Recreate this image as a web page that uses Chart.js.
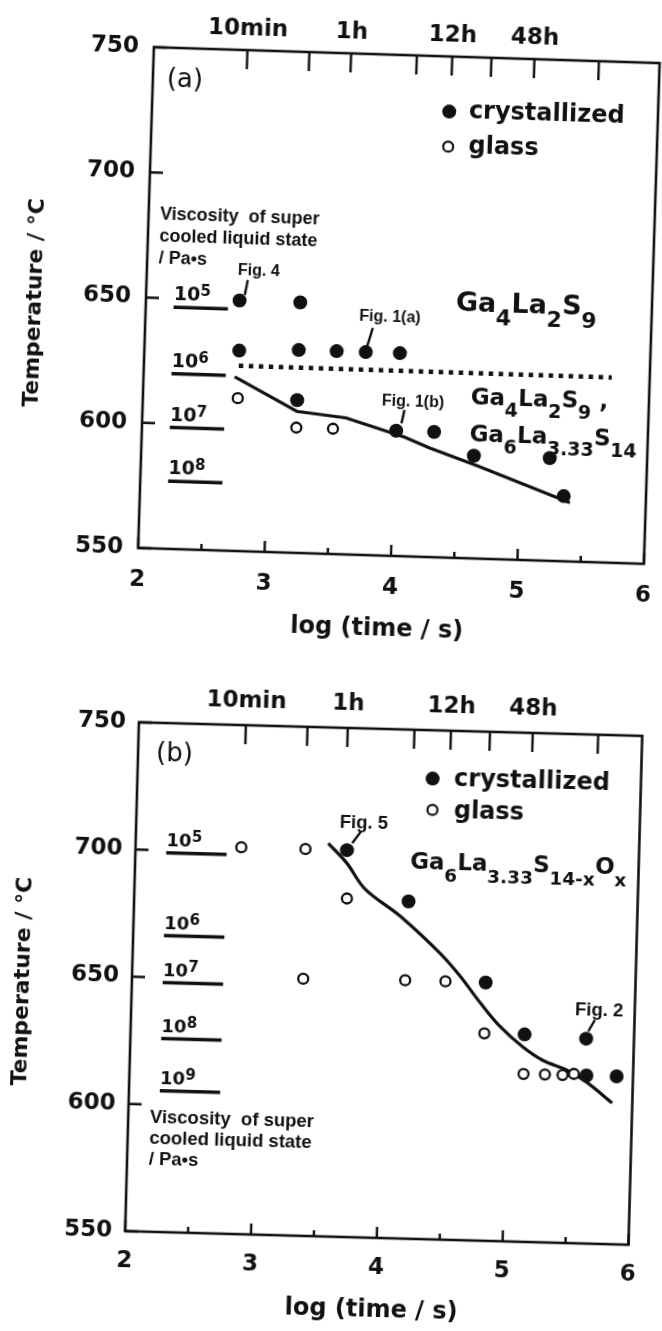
<!DOCTYPE html>
<html>
<head>
<meta charset="utf-8">
<script src="https://cdn.jsdelivr.net/npm/chart.js@4.4.1/dist/chart.umd.min.js"></script>
<style>
html,body{margin:0;padding:0;background:#fff;width:662px;height:1331px;overflow:hidden}
.panel{position:absolute;left:0;width:662px}
/* the scanned figure is slightly tilted; the panels follow it */
#pa{top:0;height:660px;transform-origin:398.5px 301.5px;transform:rotate(1.8deg)}
#pb{top:660px;height:671px;transform-origin:383px 321px;transform:rotate(1.55deg)}
canvas{display:block}
</style>
</head>
<body>
<div class="panel" id="pa"><canvas id="chart-a" width="662" height="660"></canvas></div>
<div class="panel" id="pb"><canvas id="chart-b" width="662" height="671"></canvas></div>
<script>
const INK='#111';

// axes
const logTicks=[2,3,4,5,6];
const tempTicks=[550,600,650,700,750];
const topLabels=['10min','','1h','','12h','','48h',''];

// panel (a) Ga4La2S9
const aCrystLog=[2.74,3.22,2.75,3.22,3.52,3.75,4.02,3.22,4.01,4.31,4.63,5.23,5.35];
const aCrystTemp=[650,650,630,631,631,631,631,611,600,600,591,591,576];
const aGlassLog=[2.75,3.22,3.51];
const aGlassTemp=[611,600,600];
const aFitLog=[2.72,3.22,3.61,4.08,4.28,4.66,5.40];
const aFitTemp=[619.5,606.5,604.5,597.5,593.5,587,573.5];
const aDotLog=[2.75,5.70];
const aDotTemp=[624,624];
const aViscExp=['5','6','7','8'];
const aViscTemp=[646.5,620,598.5,577];
const aViscLog=[2.22,2.65];
const aTopLog=[2.74,3.23,3.56,4.08,4.36,4.67,5.01,5.52];

// panel (b) Ga6La3.33S14-xOx
const bCrystLog=[3.68,4.18,4.81,5.13,5.62,5.63,5.87];
const bCrystTemp=[702,682.5,651.5,631.5,630.5,616,616];
const bGlassLog=[2.84,3.35,3.69,3.36,4.17,4.49,4.81,5.13,5.30,5.44,5.53];
const bGlassTemp=[702,702,683,651,651.5,651.5,631.5,616,616,616,616.5];
const bFitLog=[3.53,3.68,3.83,4.12,4.44,4.60,4.77,4.93,5.12,5.28,5.47,5.63,5.84];
const bFitTemp=[704.5,697,687,676.5,662.5,654,643.5,634.5,626.5,621.5,618,613.5,605.5];
const bViscExp=['5','6','7','8','9'];
const bViscTemp=[699,666.5,648,626,605.5];
const bViscLog=[2.245,2.725];
const bTopLog=[2.85,3.34,3.66,4.19,4.48,4.79,5.13,5.65];

const pts=(xs,ys)=>xs.map((x,i)=>({x,y:ys[i]}));
const dv='"DejaVu Sans"', lib='"Liberation Sans"';

// text with _{sub} and ^{sup}
function rich(ctx,str,x,y,f){
  const re=/_\{([^}]*)\}|\^\{([^}]*)\}|([^_^]+)/g;
  let m,cx=x;
  ctx.textAlign='left';ctx.textBaseline='alphabetic';
  while((m=re.exec(str))){
    let t=m[3],sz=f.size,dy=0;
    if(m[1]!==undefined){t=m[1];sz=f.small;dy=f.sub||0;}
    else if(m[2]!==undefined){t=m[2];sz=f.small;dy=-(f.sup||0);}
    ctx.font=`bold ${sz}px ${dv}`;
    ctx.fillText(t,cx,y+dy);
    cx+=ctx.measureText(t).width;
  }
}

const dressing={
  id:'dressing',
  afterDraw(chart,args,o){
    const {ctx,chartArea:a,scales:{x,x2,y}}=chart;
    const px=v=>x.getPixelForValue(v), py=v=>y.getPixelForValue(v);
    ctx.save();
    ctx.strokeStyle=INK;ctx.fillStyle=INK;
    ctx.lineWidth=2.6;
    ctx.strokeRect(a.left,a.top,a.right-a.left,a.bottom-a.top);
    ctx.lineWidth=2.4;
    ctx.beginPath();
    y.ticks.forEach(t=>{const v=py(t.value);ctx.moveTo(a.left,v);ctx.lineTo(a.left+13,v);});
    x.ticks.forEach((t,i)=>{
      const v=px(t.value);ctx.moveTo(v,a.bottom);ctx.lineTo(v,a.bottom-11);
      if(i<x.ticks.length-1){const m=px((t.value+x.ticks[i+1].value)/2);ctx.moveTo(m,a.bottom);ctx.lineTo(m,a.bottom-6);}
    });
    x2.ticks.forEach(t=>{const v=x2.getPixelForValue(t.value);ctx.moveTo(v,a.top);ctx.lineTo(v,a.top+19);});
    ctx.stroke();

    // axis titles
    ctx.textAlign='center';ctx.textBaseline='middle';
    ctx.font=`bold 22px ${dv}`;
    ctx.save();ctx.translate(o.yTitle[0],o.yTitle[1]);ctx.rotate(-Math.PI/2);
    ctx.fillText('Temperature / °C',0,0);ctx.restore();
    ctx.font=`bold 24px ${dv}`;
    ctx.fillText('log (time / s)',o.xTitle[0],o.xTitle[1]);

    // viscosity labels above the short lines
    o.visc.exp.forEach((e,i)=>{
      rich(ctx,'10^{'+e+'}',px(o.visc.log[0]),py(o.visc.temp[i])-o.visc.lift,{size:o.visc.size,small:o.visc.small,sup:o.visc.sup});
    });

    o.notes.forEach(n=>{
      if(n.t==='text'){
        ctx.font=n.font;ctx.textAlign='left';ctx.textBaseline=n.base||'alphabetic';
        ctx.fillText(n.s,px(n.x),py(n.y));
      }else if(n.t==='lines'){
        ctx.font=n.font;ctx.textAlign='left';ctx.textBaseline='alphabetic';
        n.rows.forEach((r,i)=>ctx.fillText(r,px(n.x),py(n.y)+i*n.step));
      }else if(n.t==='rich'){
        rich(ctx,n.s,px(n.x),py(n.y),n);
      }else if(n.t==='lead'){
        ctx.lineWidth=2.4;ctx.beginPath();
        ctx.moveTo(px(n.x1),py(n.y1));ctx.lineTo(px(n.x2),py(n.y2));ctx.stroke();
      }else if(n.t==='dot'){
        ctx.beginPath();ctx.arc(px(n.x),py(n.y),n.r,0,Math.PI*2);
        if(n.open){ctx.lineWidth=2.2;ctx.fillStyle='#fff';ctx.fill();ctx.fillStyle=INK;ctx.stroke();}
        else ctx.fill();
      }
    });
    ctx.restore();
  }
};

function makePanel(id,p){
  const datasets=[
    {label:'crystallized',data:pts(p.crystLog,p.crystTemp),pointRadius:7,pointBackgroundColor:INK,pointBorderWidth:0,showLine:false},
    {label:'glass',data:pts(p.glassLog,p.glassTemp),pointRadius:5,pointBackgroundColor:'#fff',pointBorderColor:INK,pointBorderWidth:2.3,showLine:false},
    {label:'fit',data:pts(p.fitLog,p.fitTemp),showLine:true,borderColor:INK,borderWidth:3.2,pointRadius:0,tension:p.tension}
  ];
  if(p.dotLog) datasets.push({label:'limit',data:pts(p.dotLog,p.dotTemp),showLine:true,borderColor:INK,borderWidth:4.5,borderDash:[4.5,5.5],pointRadius:0});
  p.viscTemp.forEach((t,i)=>datasets.push({label:'eta 10^'+p.viscExp[i],data:pts(p.viscLog,[t,t]),showLine:true,borderColor:INK,borderWidth:3.5,pointRadius:0}));

  const tickFont={family:dv,size:23,weight:'bold'};
  const noGrid={display:false,drawTicks:false};
  return new Chart(document.getElementById(id).getContext('2d'),{
    type:'scatter',
    data:{datasets},
    options:{
      responsive:false,animation:false,devicePixelRatio:1,events:[],
      layout:{padding:{left:0,top:0,bottom:0,right:662-p.right}},
      plugins:{legend:{display:false},tooltip:{enabled:false},
        dressing:{yTitle:p.yTitle,xTitle:p.xTitle,notes:p.notes,
          visc:{exp:p.viscExp,temp:p.viscTemp,log:p.viscLog,size:p.viscSize,small:15,sup:5,lift:7}}},
      scales:{
        x:{type:'linear',position:'bottom',min:2,max:6,
          afterBuildTicks:s=>{s.ticks=logTicks.map(v=>({value:v}));},
          ticks:{padding:p.xPad,color:INK,font:tickFont,maxRotation:0,autoSkip:false},
          grid:noGrid,border:{display:false},
          afterFit:s=>{s.height=p.h-p.bottom;s.paddingLeft=0;s.paddingRight=0;}},
        x2:{type:'linear',position:'top',min:2,max:6,
          afterBuildTicks:s=>{s.ticks=p.topLog.map(v=>({value:v}));},
          ticks:{padding:p.topPad,color:INK,font:tickFont,maxRotation:0,autoSkip:false,callback:(v,i)=>topLabels[i]},
          grid:noGrid,border:{display:false},
          afterFit:s=>{s.height=p.top;s.paddingLeft=0;s.paddingRight=0;}},
        y:{type:'linear',min:550,max:750,
          afterBuildTicks:s=>{s.ticks=tempTicks.map(v=>({value:v}));},
          ticks:{padding:p.yPad,color:INK,font:tickFont,autoSkip:false},
          grid:noGrid,border:{display:false},
          afterFit:s=>{s.width=p.left;s.paddingTop=0;s.paddingBottom=0;}}
      }
    },
    plugins:[dressing]
  });
}

const fig=n=>`bold ${n}px ${lib}`;
const rows=['Viscosity  of super','cooled liquid state','/ Pa\u2022s'];

makePanel('chart-a',{
  crystLog:aCrystLog,crystTemp:aCrystTemp,glassLog:aGlassLog,glassTemp:aGlassTemp,
  fitLog:aFitLog,fitTemp:aFitTemp,tension:0,dotLog:aDotLog,dotTemp:aDotTemp,
  viscExp:aViscExp,viscTemp:aViscTemp,viscLog:aViscLog,viscSize:19,topLog:aTopLog,
  left:146,right:652,top:55,bottom:556,h:660,yPad:15,xPad:18,topPad:7,
  yTitle:[35,314],xTitle:[387,630],
  notes:[
    {t:'text',x:2.11,y:737,s:'(a)',font:`26px ${dv}`,base:'middle'},
    {t:'dot',x:4.35,y:728,r:7},
    {t:'dot',x:4.35,y:714,r:5,open:true},
    {t:'text',x:4.505,y:725.7,s:'crystallized',font:`bold 24px ${dv}`},
    {t:'text',x:4.51,y:711.7,s:'glass',font:`bold 24px ${dv}`},
    {t:'lines',x:2.09,y:681.5,rows,font:fig(18),step:22},
    {t:'text',x:2.72,y:660.2,s:'Fig. 4',font:fig(16)},
    {t:'lead',x1:2.80,y1:658.3,x2:2.78,y2:652.3},
    {t:'text',x:3.69,y:643.3,s:'Fig. 1(a)',font:fig(16)},
    {t:'lead',x1:3.80,y1:640.7,x2:3.76,y2:633.5},
    {t:'text',x:3.89,y:609.7,s:'Fig. 1(b)',font:fig(16)},
    {t:'lead',x1:4.07,y1:608.4,x2:4.05,y2:603},
    {t:'rich',x:4.45,y:648.5,s:'Ga_{4}La_{2}S_{9}',size:27,small:22,sub:13},
    {t:'rich',x:4.59,y:611.4,s:'Ga_{4}La_{2}S_{9} ,',size:23,small:19,sub:11},
    {t:'rich',x:4.59,y:596.9,s:'Ga_{6}La_{3.33}S_{14}',size:23,small:19,sub:11}
  ]
});

makePanel('chart-b',{
  crystLog:bCrystLog,crystTemp:bCrystTemp,glassLog:bGlassLog,glassTemp:bGlassTemp,
  fitLog:bFitLog,fitTemp:bFitTemp,tension:0.35,
  viscExp:bViscExp,viscTemp:bViscTemp,viscLog:bViscLog,viscSize:18,topLog:bTopLog,
  left:132,right:635.5,top:69,bottom:578,h:671,yPad:13,xPad:16,topPad:10,
  yTitle:[23,331],xTitle:[380,651],
  notes:[
    {t:'text',x:2.143,y:737.7,s:'(b)',font:`26px ${dv}`,base:'middle'},
    {t:'dot',x:4.345,y:731,r:7},
    {t:'dot',x:4.35,y:718.7,r:5,open:true},
    {t:'text',x:4.515,y:728.3,s:'crystallized',font:`bold 24px ${dv}`},
    {t:'text',x:4.52,y:715.7,s:'glass',font:`bold 24px ${dv}`},
    {t:'lines',x:2.172,y:592.7,rows,font:fig(18.5),step:21},
    {t:'text',x:3.617,y:710.6,s:'Fig. 5',font:fig(18.5)},
    {t:'lead',x1:3.786,y1:709.4,x2:3.72,y2:704.8},
    {t:'text',x:5.525,y:639.7,s:'Fig. 2',font:fig(18.5)},
    {t:'lead',x1:5.685,y1:637.9,x2:5.635,y2:633.4},
    {t:'rich',x:4.184,y:695.5,s:'Ga_{6}La_{3.33}S_{14-x}O_{x}',size:23,small:18.5,sub:12}
  ]
});
</script>
</body>
</html>
